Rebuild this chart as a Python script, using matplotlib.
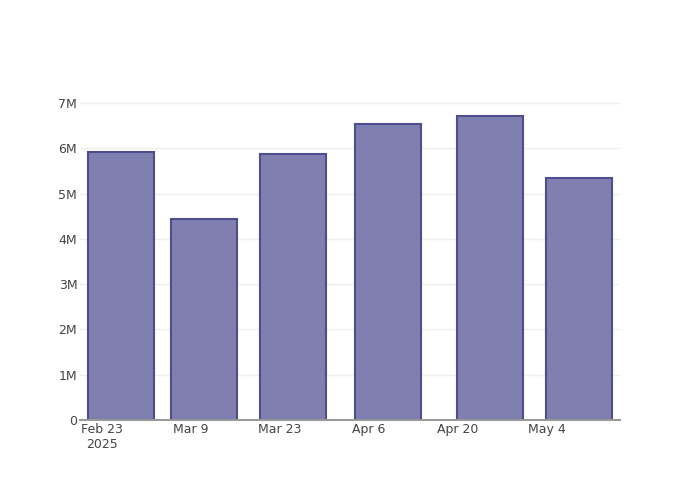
#import the libraries

import numpy as np
import pandas as pd
import matplotlib.pyplot as plt
import matplotlib.dates as mdates

# data
dates = pd.to_datetime(['2025-02-26', '2025-03-11', '2025-03-25',
                        '2025-04-09', '2025-04-25', '2025-05-09'])
values = [5.92e6, 4.44e6, 5.87e6, 6.54e6, 6.71e6, 5.34e6]

tick_dates = pd.to_datetime(['2025-02-23', '2025-03-09', '2025-03-23',
                             '2025-04-06', '2025-04-20', '2025-05-04'])
tick_labels = ['Feb 23\n2025', 'Mar 9', 'Mar 23', 'Apr 6', 'Apr 20', 'May 4']
y_ticks = [0, 1e6, 2e6, 3e6, 4e6, 5e6, 6e6, 7e6]
y_labels = ['0', '1M', '2M', '3M', '4M', '5M', '6M', '7M']

plt.rcParams['font.family'] = ['DejaVu Sans']

fig = plt.figure(figsize=(7, 5), dpi=100)
ax = fig.add_axes([80/700, 80/500, 540/700, 320/500])

ax.bar(dates, values, width=10.4, color='#7f7fb0',
       edgecolor='#4d4d8f', linewidth=1.5, zorder=3)

# x range (plotly style date axis)
start = tick_dates[0] - pd.Timedelta(days=3.46)
end = tick_dates[0] + pd.Timedelta(days=81.5)
ax.set_xlim(start, end)
ax.set_ylim(0, 7.066e6)

ax.set_xticks(tick_dates)
ax.set_xticklabels(tick_labels, fontsize=9, color='#444444', linespacing=1.2)
ax.set_yticks(y_ticks)
ax.set_yticklabels(y_labels, fontsize=9, color='#444444')
ax.tick_params(axis='both', length=0)
ax.tick_params(axis='x', pad=2)
ax.tick_params(axis='y', pad=2)

ax.grid(axis='y', color='#eeeeee', linewidth=1, zorder=0)
for s in ['top', 'right', 'left']:
    ax.spines[s].set_visible(False)
ax.spines['bottom'].set_color('#999999')
ax.spines['bottom'].set_linewidth(1.5)
ax.spines['bottom'].set_zorder(4)

plt.savefig('out.png', dpi=100)
